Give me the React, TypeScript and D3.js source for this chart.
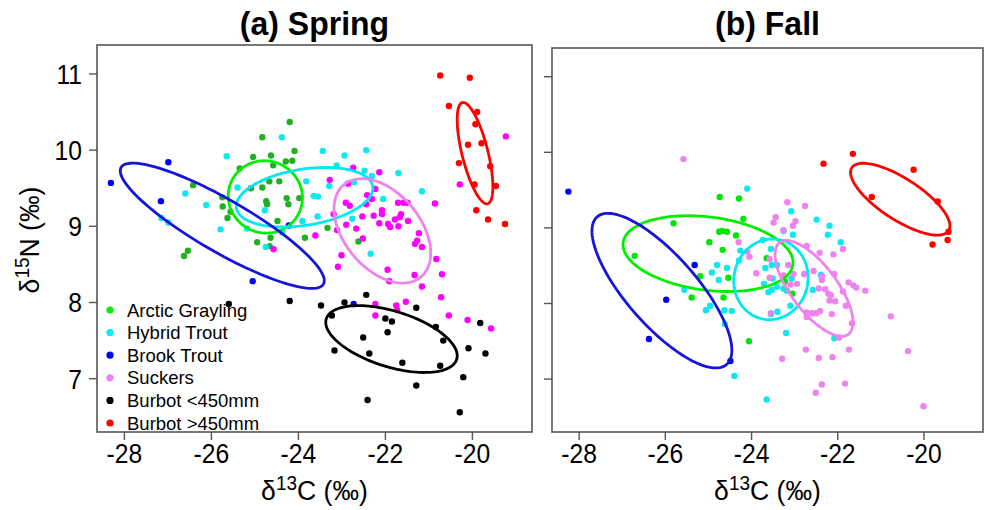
import React from "react";
import * as d3 from "d3";

type Pt = [number, number];

// ---------- Spring (δ13C, δ15N) ----------
const springGrayling: Pt[] = [
  [-26.42, 9.54], [-26.54, 8.68], [-26.63, 8.61], [-24.2, 10.37], [-24.83, 10.17], [-24.09, 9.99],
  [-24.63, 9.93], [-25.04, 9.91], [-24.29, 9.85], [-24.14, 9.86], [-24.58, 9.8], [-25.35, 9.76],
  [-24.67, 9.59], [-24.44, 9.59], [-25.09, 9.5], [-24.83, 9.51], [-25.75, 9.38], [-23.98, 9.37],
  [-24.27, 9.37], [-24.74, 9.33], [-24.72, 9.29], [-24.23, 9.29], [-25.74, 9.26], [-25.56, 9.19],
  [-25.63, 9.11], [-24.48, 9.07], [-24.64, 8.85], [-23.85, 8.85], [-24.95, 8.79], [-24.66, 8.74],
  [-23.33, 8.98], [-22.62, 8.8],
];
const springHybrid: Pt[] = [
  [-26.6, 9.43], [-27.15, 9.11], [-26.99, 9.05], [-24.38, 10.17], [-25.65, 9.92], [-23.44, 9.99],
  [-22.94, 9.93], [-22.44, 10.0], [-23.12, 9.8], [-22.48, 9.73], [-22.31, 9.66], [-21.7, 9.7],
  [-21.16, 9.46], [-23.82, 9.59], [-23.29, 9.53], [-23.65, 9.4], [-23.55, 9.39], [-22.05, 9.36],
  [-26.12, 9.28], [-25.4, 9.51], [-23.91, 9.07], [-23.56, 9.13], [-22.76, 9.1], [-25.79, 8.96],
  [-24.37, 8.92], [-24.75, 8.73], [-22.34, 8.64], [-24.77, 9.21], [-25.18, 8.97], [-22.72, 9.58],
];
const springBrook: Pt[] = [
  [-28.31, 9.57], [-26.99, 9.84], [-27.16, 9.33], [-25.05, 8.28], [-24.22, 9.01], [-22.73, 7.98],
];
const springSuckers: Pt[] = [
  [-19.23, 10.18], [-20.29, 9.55], [-22.74, 9.77], [-22.14, 9.71], [-23.28, 9.61], [-22.86, 9.56],
  [-22.23, 9.49], [-22.42, 9.41], [-22.31, 9.36], [-22.91, 9.31], [-22.82, 9.27], [-22.44, 9.29],
  [-21.71, 9.31], [-21.58, 9.31], [-21.49, 9.31], [-20.86, 9.3], [-23.19, 9.16], [-22.53, 9.13],
  [-22.27, 9.14], [-22.08, 9.21], [-22.08, 9.16], [-21.64, 9.16], [-21.67, 9.12], [-21.78, 9.09],
  [-21.48, 9.07], [-22.14, 9.04], [-21.94, 9.03], [-21.89, 8.99], [-21.7, 9.0], [-22.9, 9.02],
  [-23.11, 8.95], [-22.67, 8.97], [-23.61, 8.88], [-22.52, 8.84], [-21.23, 8.91], [-21.27, 8.81],
  [-21.32, 8.77], [-21.16, 8.73], [-23.01, 8.62], [-23.09, 8.47], [-20.83, 8.57], [-21.95, 8.43],
  [-21.33, 8.36], [-20.7, 8.37], [-21.16, 8.21], [-21.91, 8.28], [-20.72, 8.07], [-22.23, 7.98],
  [-21.75, 7.96], [-21.73, 7.9], [-21.53, 8.01], [-22.23, 7.83], [-20.54, 7.83], [-20.11, 7.77],
  [-19.57, 7.66], [-24.57, 8.7],
];
const springBurbotSmall: Pt[] = [
  [-25.6, 7.98], [-24.2, 8.02], [-22.44, 8.1], [-23.48, 7.96], [-22.94, 8.0], [-21.29, 7.93],
  [-23.23, 7.83], [-22.0, 7.79], [-21.85, 7.75], [-20.84, 7.68], [-21.95, 7.61], [-22.51, 7.54],
  [-20.67, 7.5], [-23.17, 7.37], [-22.37, 7.33], [-20.09, 7.4], [-19.82, 7.73], [-19.7, 7.33],
  [-21.61, 7.21], [-20.74, 7.17], [-20.21, 7.02], [-21.29, 6.91], [-22.41, 6.72], [-20.29, 6.56],
];
const springBurbotLarge: Pt[] = [
  [-20.74, 10.98], [-20.06, 10.95], [-20.54, 10.58], [-19.89, 10.5], [-19.93, 10.34], [-20.1, 10.07],
  [-19.79, 10.09], [-20.31, 9.83], [-19.59, 9.79], [-19.95, 9.55], [-19.46, 9.53], [-19.91, 9.21],
  [-19.64, 9.09], [-19.25, 9.03],
];

// ---------- Fall (δ13C, δ15N) ----------
const fallGrayling: Pt[] = [
  [-24.74, 9.41], [-24.29, 9.39], [-24.19, 9.12], [-25.81, 9.06], [-24.75, 8.95], [-24.68, 8.96],
  [-24.57, 8.95], [-24.36, 8.9], [-24.98, 8.81], [-24.67, 8.71], [-26.71, 8.63], [-25.19, 8.36],
  [-24.54, 8.34], [-25.39, 8.08], [-24.65, 8.08], [-23.65, 8.6], [-23.23, 8.29], [-23.05, 8.13],
  [-24.06, 7.5],
];
const fallHybrid: Pt[] = [
  [-24.1, 9.52], [-23.08, 9.22], [-22.49, 9.11], [-22.19, 9.03], [-22.23, 8.91], [-23.26, 8.96],
  [-23.04, 8.91], [-21.93, 8.81], [-23.74, 8.84], [-24.26, 8.7], [-23.55, 8.72], [-24.29, 8.57],
  [-23.41, 8.51], [-23.68, 8.47], [-23.53, 8.51], [-24.8, 8.51], [-24.57, 8.47], [-24.92, 8.41],
  [-24.76, 8.31], [-25.56, 8.18], [-23.51, 8.33], [-23.07, 8.33], [-23.71, 8.26], [-23.41, 8.22],
  [-23.61, 8.15], [-23.53, 8.18], [-23.26, 8.2], [-23.18, 8.17], [-22.58, 8.18], [-22.39, 8.38],
  [-24.96, 7.97], [-25.06, 7.91], [-24.63, 7.91], [-24.46, 7.9], [-23.1, 7.97], [-23.55, 7.86],
  [-23.4, 7.89], [-24.62, 7.73], [-23.2, 7.61], [-22.08, 7.54], [-24.4, 7.04], [-23.65, 6.73],
];
const fallBrook: Pt[] = [
  [-28.25, 9.48], [-25.32, 8.51], [-25.98, 8.05], [-26.38, 7.53], [-24.49, 7.24],
];
const fallSuckers: Pt[] = [
  [-25.58, 9.91], [-23.17, 9.34], [-22.76, 9.29], [-23.44, 9.14], [-23.49, 9.07], [-22.98, 9.09],
  [-23.04, 9.03], [-23.26, 8.97], [-24.3, 8.81], [-24.1, 8.69], [-24.05, 8.62], [-22.72, 8.76],
  [-22.42, 8.67], [-22.1, 8.65], [-21.88, 8.72], [-23.58, 8.59], [-23.15, 8.51], [-23.89, 8.4],
  [-23.58, 8.34], [-23.26, 8.37], [-23.03, 8.39], [-22.78, 8.39], [-22.56, 8.43], [-22.37, 8.36],
  [-22.37, 8.31], [-22.08, 8.39], [-23.1, 8.25], [-22.95, 8.26], [-21.75, 8.28], [-21.64, 8.24],
  [-21.57, 8.21], [-21.36, 8.17], [-22.44, 8.2], [-22.29, 8.19], [-22.22, 8.13], [-22.16, 8.11],
  [-22.19, 8.04], [-22.06, 8.03], [-21.88, 8.16], [-21.81, 7.97], [-22.72, 7.88], [-22.6, 7.87],
  [-22.5, 7.87], [-22.41, 7.9], [-22.14, 7.86], [-23.55, 7.87], [-22.72, 7.82], [-21.67, 7.74],
  [-21.97, 7.55], [-20.77, 7.83], [-22.74, 7.39], [-21.74, 7.39], [-23.29, 7.27], [-22.44, 7.28],
  [-22.12, 7.29], [-20.37, 7.37], [-22.37, 6.93], [-21.83, 6.94], [-22.51, 6.82], [-20.01, 6.64],
];
const fallBurbotLarge: Pt[] = [
  [-21.65, 9.98], [-22.33, 9.85], [-20.24, 9.77], [-21.21, 9.41], [-19.68, 9.35], [-19.43, 8.95],
  [-19.45, 8.84], [-19.8, 8.78],
];

// Standard ellipses: centre plus two conjugate semi-axis vectors, all in ‰
type Ell = { cx: number; cy: number; ax: number; ay: number; bx: number; by: number };
const springEllipses: Ell[] = [
  { cx: -24.76, cy: 9.386, ax: 0.85, ay: 0.026, bx: 0.069, by: -0.474 },
  { cx: -23.86, cy: 9.382, ax: 1.568, ay: 0.142, bx: 0.101, by: -0.364 },
  { cx: -25.75, cy: 9.007, ax: 2.326, ay: -0.766, bx: -0.3, by: -0.299 },
  { cx: -22.07, cy: 8.94, ax: 0.887, ay: -0.605, bx: -0.669, by: -0.321 },
  { cx: -21.86, cy: 7.52, ax: 1.499, ay: -0.266, bx: -0.189, by: -0.349 },
  { cx: -19.94, cy: 9.96, ax: 0.29, ay: -0.664, bx: -0.29, by: -0.041 },
];
const fallEllipses: (Ell | null)[] = [
  { cx: -25.01, cy: 8.66, ax: 1.97, ay: -0.145, bx: -0.109, by: -0.48 },
  { cx: -23.55, cy: 8.32, ax: 0.858, ay: 0.079, bx: 0.093, by: -0.528 },
  { cx: -26.08, cy: 8.17, ax: 1.503, ay: -0.976, bx: -0.613, by: -0.305 },
  { cx: -22.55, cy: 8.2, ax: 0.796, ay: -0.607, bx: -0.429, by: -0.182 },
  null,
  { cx: -20.55, cy: 9.38, ax: 1.123, ay: -0.417, bx: -0.262, by: -0.228 },
];

const groupNames = ["Arctic Grayling", "Hybrid Trout", "Brook Trout", "Suckers", "Burbot <450mm", "Burbot >450mm"];
const xTicks = [-28, -26, -24, -22, -20];
const yTicks = [7, 8, 9, 10, 11];
const xDomain: [number, number] = [-28.63, -18.63];
const yDomain: [number, number] = [6.3, 11.38];

const ellipseColors = ["#00ee00", "#00e8f0", "#1414dc", "#ee82ee", "#000000", "#ff0000"];
const legendColors = ["#00f000", "#00f0f8", "#0000ff", "#ee82ee", "#000000", "#ff0000"];
const springDotColors = ["#22b022", "#10e8f0", "#0000ff", "#ff00ff", "#000000", "#ff0000"];
const fallDotColors = ["#00e600", "#10e8f0", "#0000ff", "#ee82ee", "#000000", "#ff0000"];

const springSets: Pt[][] = [springGrayling, springHybrid, springBrook, springSuckers, springBurbotSmall, springBurbotLarge];
const fallSets: Pt[][] = [fallGrayling, fallHybrid, fallBrook, fallSuckers, [], fallBurbotLarge];

const sans = "'Liberation Sans', Arial, sans-serif";

type Box = { x0: number; x1: number; y0: number; y1: number };

function ellipsePath(e: Ell, x: d3.ScaleLinear<number, number>, y: d3.ScaleLinear<number, number>) {
  const pts: [number, number][] = d3.range(0, 121).map((i) => {
    const t = (i / 120) * 2 * Math.PI;
    return [
      x(e.cx + e.ax * Math.cos(t) + e.bx * Math.sin(t)),
      y(e.cy + e.ay * Math.cos(t) + e.by * Math.sin(t)),
    ];
  });
  return d3.line()(pts) + "Z";
}

// Text with an optional horizontal squeeze, like a narrow face
function NarrowText(props: {
  x: number; y: number; anchor: string; size: number; bold?: boolean; rotate?: number; squeeze?: number;
  children: React.ReactNode;
}) {
  const { x, y, anchor, size, bold, rotate, squeeze, children } = props;
  const k = squeeze === undefined ? 0.88 : squeeze;
  return (
    <g transform={`translate(${x},${y}) rotate(${rotate || 0}) scale(${k},1)`}>
      <text textAnchor={anchor} fontFamily={sans} fontSize={size} fontWeight={bold ? "bold" : "normal"}>
        {children}
      </text>
    </g>
  );
}

function Panel(props: {
  id: string;
  box: Box;
  title: string;
  sets: Pt[][];
  ellipses: (Ell | null)[];
  dotColors: string[];
  yLabels: boolean;
  legend: boolean;
}) {
  const { id, box, title, sets, ellipses, dotColors, yLabels, legend } = props;
  const x = d3.scaleLinear().domain(xDomain).range([box.x0, box.x1]);
  const y = d3.scaleLinear().domain(yDomain).range([box.y1, box.y0]);
  const cxMid = (box.x0 + box.x1) / 2;
  return (
    <g>
      <defs>
        <clipPath id={id}>
          <rect x={box.x0} y={box.y0} width={box.x1 - box.x0} height={box.y1 - box.y0} />
        </clipPath>
      </defs>
      <NarrowText x={cxMid} y={35} anchor="middle" size={33} bold squeeze={0.97}>
        {title}
      </NarrowText>
      <g clipPath={`url(#${id})`}>
        {sets.map((pts, gi) =>
          pts.map((p, i) => (
            <circle key={`${gi}-${i}`} cx={x(p[0])} cy={y(p[1])} r={3.2} fill={dotColors[gi]} />
          ))
        )}
        {ellipses.map((e, gi) =>
          e ? <path key={gi} d={ellipsePath(e, x, y)} fill="none" stroke={ellipseColors[gi]} strokeWidth={2.8} /> : null
        )}
      </g>
      <rect x={box.x0} y={box.y0} width={box.x1 - box.x0} height={box.y1 - box.y0} fill="none" stroke="#555" strokeWidth={1.6} />
      {xTicks.map((t) => (
        <g key={t}>
          <line x1={x(t)} x2={x(t)} y1={box.y1} y2={box.y1 + 8} stroke="#555" strokeWidth={1.4} />
          <NarrowText x={x(t)} y={463} anchor="middle" size={28}>
            {t}
          </NarrowText>
        </g>
      ))}
      {yTicks.map((t) => (
        <g key={t}>
          <line x1={box.x0} x2={box.x0 - 8} y1={y(t)} y2={y(t)} stroke="#555" strokeWidth={1.4} />
          {yLabels ? (
            <NarrowText x={82} y={y(t) + 10} anchor="end" size={28}>
              {t}
            </NarrowText>
          ) : null}
        </g>
      ))}
      <NarrowText x={cxMid} y={500} anchor="middle" size={28} squeeze={0.95}>
        δ<tspan dy={-10} fontSize={20}>13</tspan>
        <tspan dy={10}>C (‰)</tspan>
      </NarrowText>
      {legend
        ? groupNames.map((name, i) => {
            const ly = 310 + i * 22.6;
            return (
              <g key={name}>
                <circle cx={110} cy={ly} r={3.6} fill={legendColors[i]} />
                <text x={127} y={ly + 6.5} fontFamily={sans} fontSize={18.5}>
                  {name}
                </text>
              </g>
            );
          })
        : null}
    </g>
  );
}

export default function App() {
  return (
    <svg width={986} height={510} style={{ position: "absolute", left: 0, top: 0, background: "#fff" }}>
      <rect width={986} height={510} fill="#fff" />
      <Panel
        id="clip-spring"
        box={{ x0: 97, x1: 532, y0: 45, y1: 432 }}
        title="(a) Spring"
        sets={springSets}
        ellipses={springEllipses}
        dotColors={springDotColors}
        yLabels={true}
        legend={true}
      />
      <Panel
        id="clip-fall"
        box={{ x0: 552, x1: 983, y0: 48, y1: 432 }}
        title="(b) Fall"
        sets={fallSets}
        ellipses={fallEllipses}
        dotColors={fallDotColors}
        yLabels={false}
        legend={false}
      />
      <NarrowText x={39} y={240} anchor="middle" size={28} rotate={-90} squeeze={0.95}>
        δ<tspan dy={-10} fontSize={20}>15</tspan>
        <tspan dy={10}>N (‰)</tspan>
      </NarrowText>
    </svg>
  );
}
